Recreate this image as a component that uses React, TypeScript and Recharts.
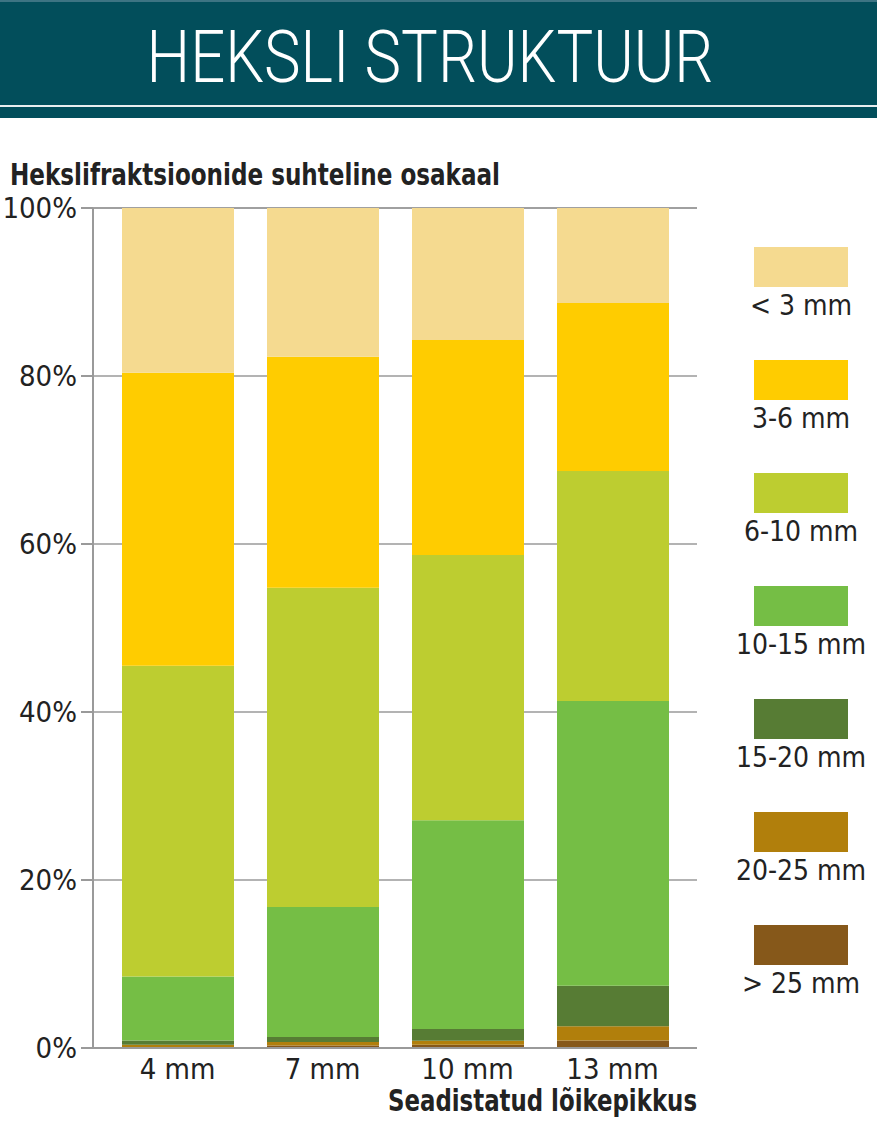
import React from 'react';
import { BarChart, Bar, XAxis, YAxis, CartesianGrid, Legend } from 'recharts';

// Lõikepikkused ja fraktsioonide osakaalud (%)
const categories = ['4 mm', '7 mm', '10 mm', '13 mm'];
const over25 = [0.1, 0.3, 0.4, 0.9];
const mm20to25 = [0.3, 0.4, 0.45, 1.7];
const mm15to20 = [0.5, 0.6, 1.4, 4.8];
const mm10to15 = [7.6, 15.5, 24.85, 33.9];
const mm6to10 = [37.0, 38.0, 31.6, 27.4];
const mm3to6 = [34.9, 27.5, 25.6, 20.0];
const under3 = [19.6, 17.7, 15.7, 11.3];
const yTicks = [0, 20, 40, 60, 80, 100];

// alt -> üles
const series = [
  { key: '> 25 mm', values: over25, color: '#86581A' },
  { key: '20-25 mm', values: mm20to25, color: '#B17F0C' },
  { key: '15-20 mm', values: mm15to20, color: '#577C34' },
  { key: '10-15 mm', values: mm10to15, color: '#75BE45' },
  { key: '6-10 mm', values: mm6to10, color: '#BDCD30' },
  { key: '3-6 mm', values: mm3to6, color: '#FFCC00' },
  { key: '< 3 mm', values: under3, color: '#F5DA90' },
];

const data = categories.map((name, i) => {
  const row: Record<string, string | number> = { name };
  series.forEach((s) => {
    row[s.key] = s.values[i];
  });
  return row;
});

const axisFont = '"Liberation Sans Narrow", "DejaVu Sans Condensed", sans-serif';
const legendFont = '"DejaVu Sans Condensed", "DejaVu Sans", sans-serif';
const gray = '#9a9a9a';

// legend ülevalt alla: peenem fraktsioon enne
function LegendContent() {
  const items = [...series].reverse();
  return (
    <div style={{ width: 94 }}>
      {items.map((it) => (
        <div key={it.key} style={{ height: 113 }}>
          <div style={{ width: 94, height: 40, background: it.color }} />
          <div
            style={{
              marginTop: 4,
              width: 94,
              height: 30,
              lineHeight: '30px',
              whiteSpace: 'nowrap',
              fontFamily: legendFont,
              fontSize: 28,
              color: '#222',
              display: 'flex',
              justifyContent: 'center',
            }}
          >
            {it.key}
          </div>
        </div>
      ))}
    </div>
  );
}

export default function App() {
  return (
    <div style={{ position: 'absolute', left: 0, top: 0, width: 877, height: 1141, background: '#fff', overflow: 'hidden' }}>
      <BarChart
        width={877}
        height={1141}
        data={data}
        margin={{ top: 208, right: 86, bottom: 63, left: 13 }}
        barSize={112}
      >
        <CartesianGrid vertical={false} stroke={gray} strokeWidth={1.5} />
        <XAxis
          dataKey="name"
          padding={{ left: 12, right: 12 }}
          height={30}
          tickLine={false}
          tickSize={4}
          tickMargin={6}
          axisLine={{ stroke: gray, strokeWidth: 2 }}
          tick={{ fontFamily: axisFont, fontSize: 29, fill: '#222' }}
        />
        <YAxis
          width={80}
          domain={[0, 100]}
          ticks={yTicks}
          tickFormatter={(v) => `${v}%`}
          tickSize={12}
          tickMargin={4}
          tickLine={{ stroke: gray, strokeWidth: 2 }}
          axisLine={{ stroke: gray, strokeWidth: 2 }}
          tick={{ fontFamily: axisFont, fontSize: 29, fill: '#222' }}
        />
        <YAxis
          yAxisId="right"
          orientation="right"
          width={0}
          domain={[0, 100]}
          tick={false}
          tickLine={false}
          axisLine={{ stroke: gray, strokeWidth: 2 }}
        />
        {series.map((s) => (
          <Bar key={s.key} dataKey={s.key} stackId="a" fill={s.color} isAnimationActive={false} />
        ))}
        <Legend
          layout="vertical"
          align="right"
          verticalAlign="top"
          content={<LegendContent />}
          wrapperStyle={{ left: 754, top: 247, width: 94, right: 'auto' }}
        />
      </BarChart>
      <svg
        width={877}
        height={1141}
        style={{ position: 'absolute', left: 0, top: 0, pointerEvents: 'none' }}
      >
        <rect x={0} y={0} width={877} height={118} fill="#024E5B" />
        <rect x={0} y={0} width={877} height={2} fill="#3D7483" />
        <rect x={0} y={105} width={877} height={2} fill="#E8EEF0" />
        <text
          x={430}
          y={82}
          textAnchor="middle"
          fill="#fff"
          fontFamily='Roboto, "Open Sans", sans-serif'
          fontWeight={300}
          fontSize={72}
          textLength={567}
          lengthAdjust="spacingAndGlyphs"
        >
          HEKSLI STRUKTUUR
        </text>
        <text
          x={10}
          y={185}
          fill="#222"
          fontFamily={axisFont}
          fontWeight={700}
          fontSize={30}
          textLength={490}
          lengthAdjust="spacingAndGlyphs"
        >
          Hekslifraktsioonide suhteline osakaal
        </text>
        <text
          x={388}
          y={1111}
          fill="#222"
          fontFamily={axisFont}
          fontWeight={700}
          fontSize={30}
          textLength={309}
          lengthAdjust="spacingAndGlyphs"
        >
          Seadistatud lõikepikkus
        </text>
      </svg>
    </div>
  );
}
